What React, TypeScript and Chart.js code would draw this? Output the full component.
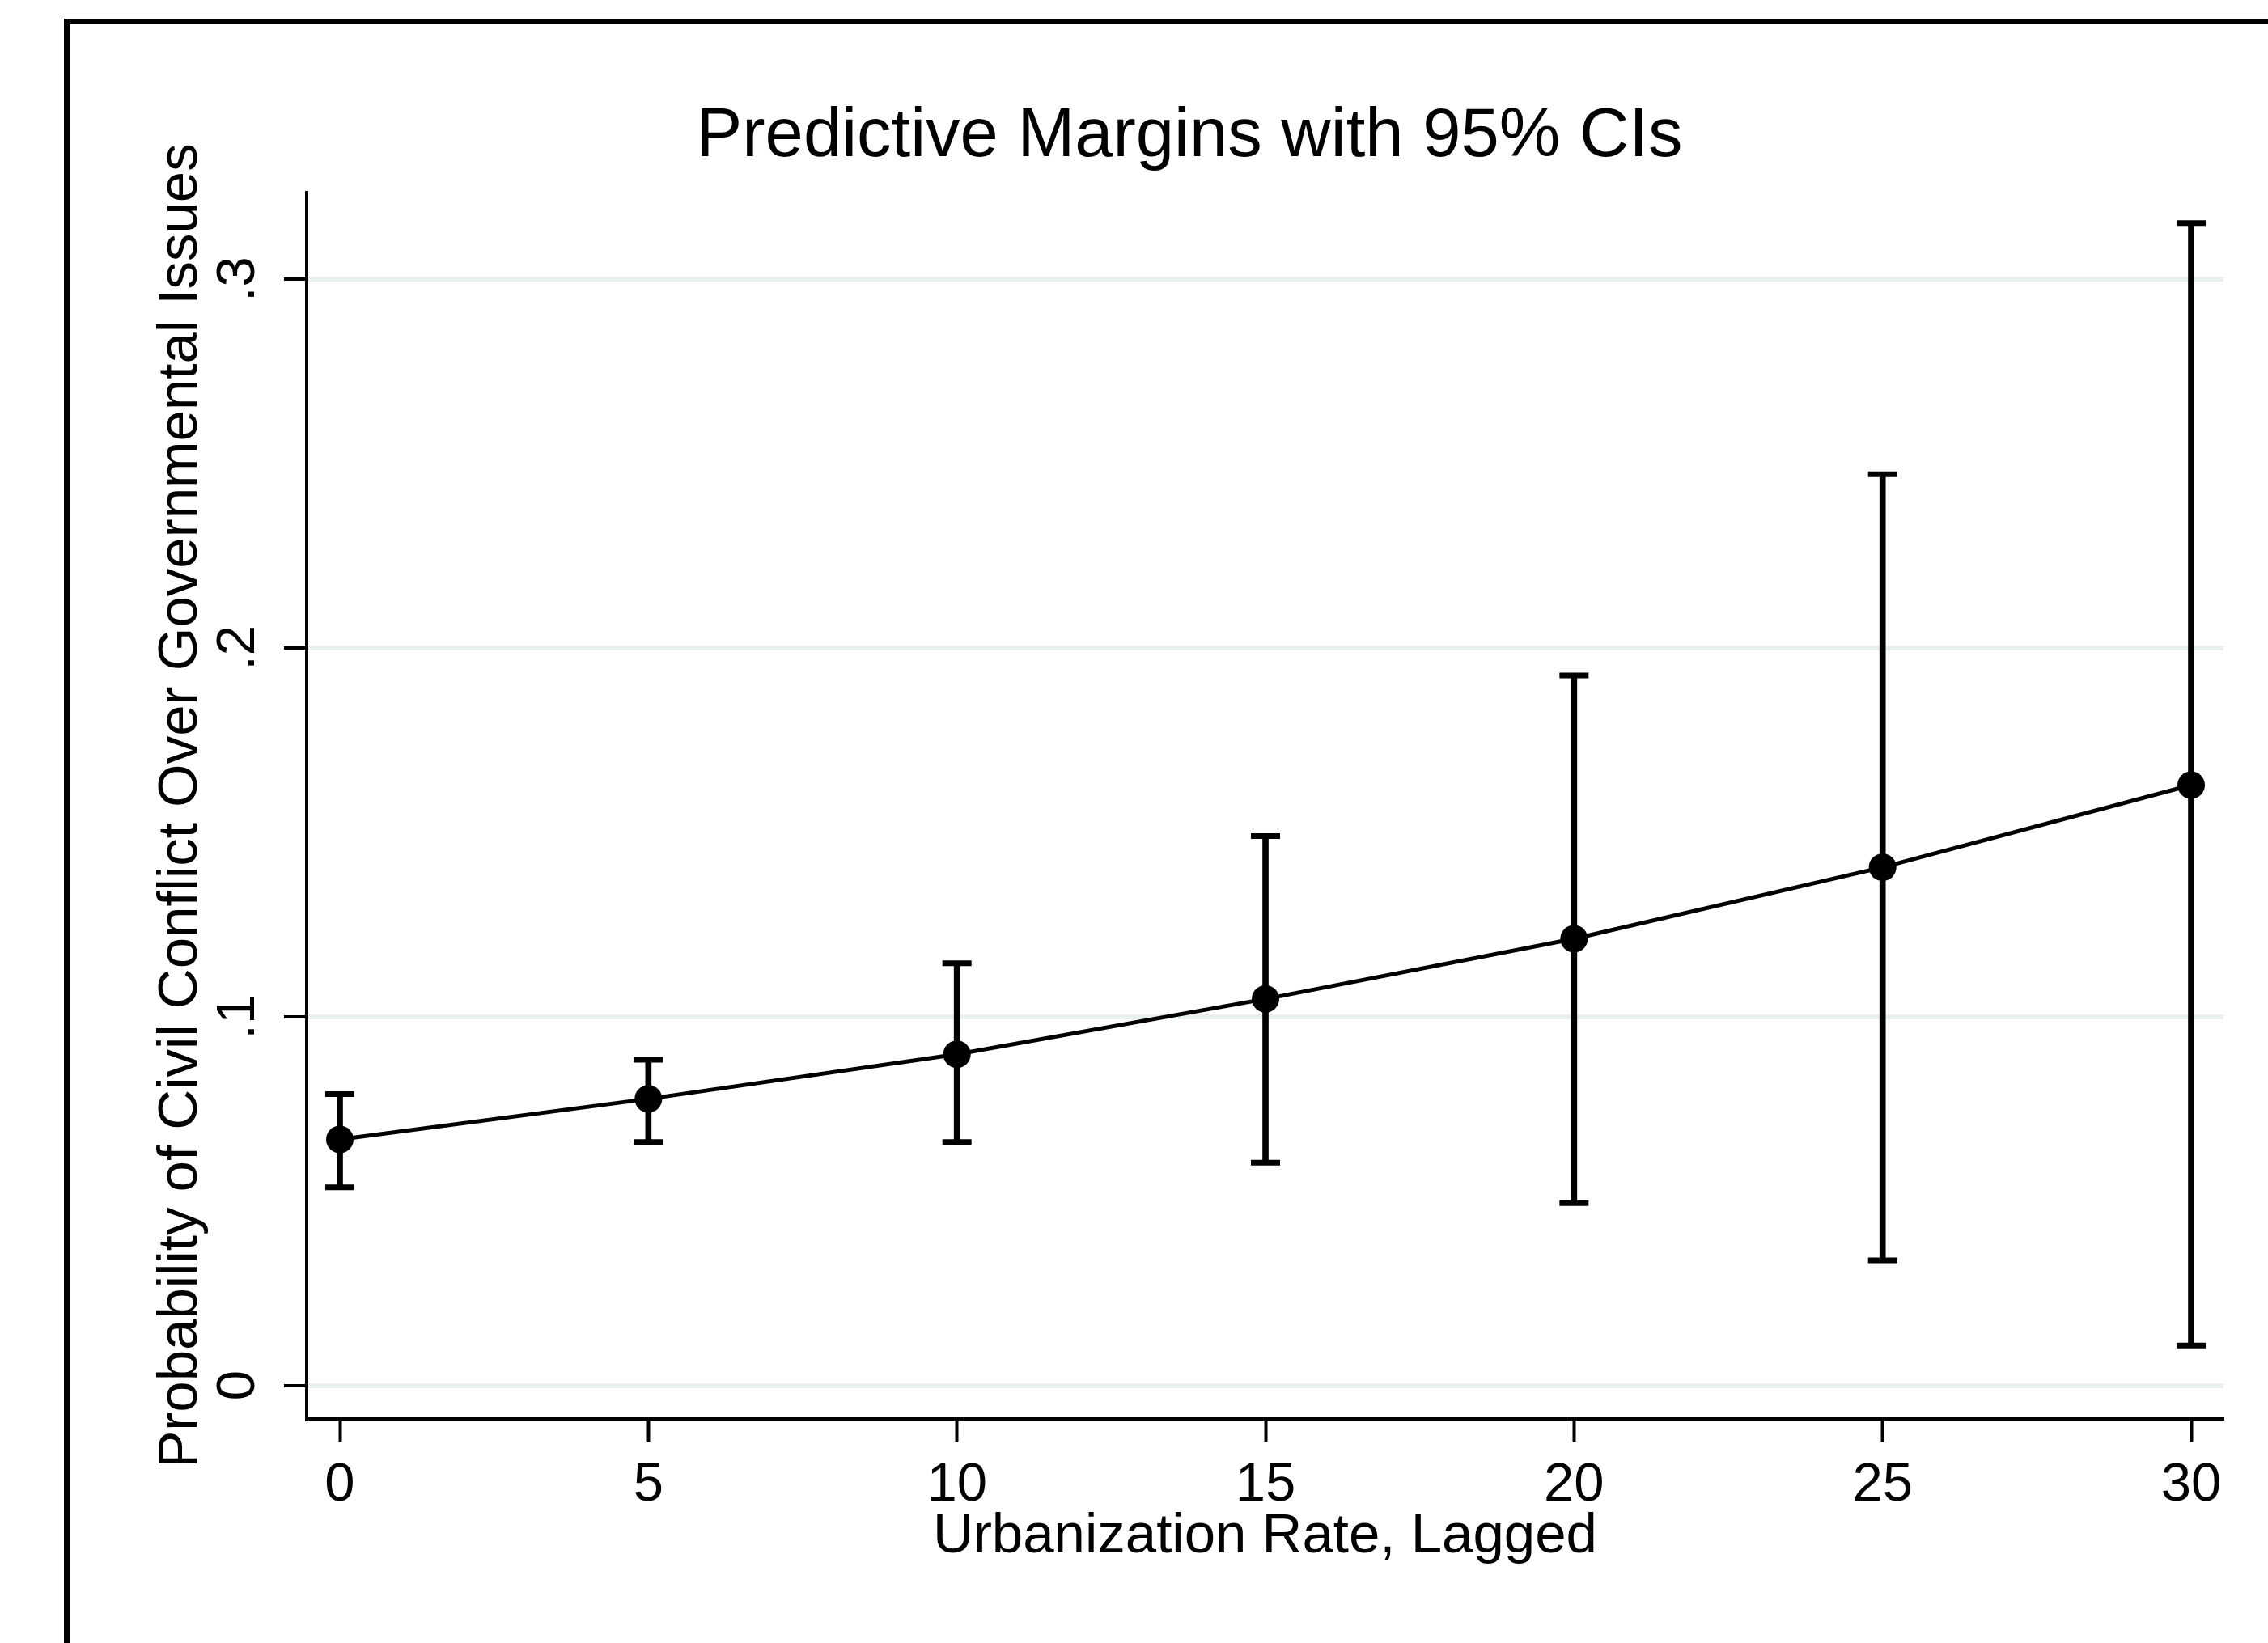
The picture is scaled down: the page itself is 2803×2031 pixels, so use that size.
import React, { useEffect, useRef } from 'react';
import { Chart, registerables } from 'chart.js';

Chart.register(...registerables);

// ---- Data ----
const xValues = [0, 5, 10, 15, 20, 25, 30];
const margins = [0.0667, 0.0777, 0.0898, 0.1048, 0.1211, 0.1405, 0.1628];
const ciLower = [0.0537, 0.066, 0.066, 0.0604, 0.0494, 0.0339, 0.0108];
const ciUpper = [0.079, 0.0883, 0.1145, 0.149, 0.1925, 0.2471, 0.3152];

const xTickValues = [0, 5, 10, 15, 20, 25, 30];
const yTickValues = [0, 0.1, 0.2, 0.3];
const yTickLabels = ['0', '.1', '.2', '.3'];

const titleText = 'Predictive Margins with 95% CIs';
const xTitle = 'Urbanization Rate, Lagged';
const yTitle = 'Probability of Civil Conflict Over Governmental Issues';

const FONT = '"Liberation Sans", Arial, sans-serif';

const framePlugin = {
  id: 'stataFrame',
  beforeDraw(chart: any) {
    const ctx = chart.ctx;
    ctx.save();
    ctx.fillStyle = '#ffffff';
    ctx.fillRect(0, 0, chart.width, chart.height);
    ctx.fillStyle = '#000000';
    ctx.fillRect(79, 23, 7, chart.height);
    ctx.fillRect(79, 23, chart.width, 7);
    ctx.restore();
  },
};

export default function App() {
  const canvasRef = useRef<HTMLCanvasElement | null>(null);

  useEffect(() => {
    const canvas = canvasRef.current;
    if (!canvas) return;

    const linePoints = xValues.map((x, i) => ({ x, y: margins[i] }));
    const barPoints = xValues.map((x, i) => ({ x, y: [ciLower[i], ciUpper[i]] }));
    const capPoints = [
      ...xValues.map((x, i) => ({ x, y: ciLower[i] })),
      ...xValues.map((x, i) => ({ x, y: ciUpper[i] })),
    ];

    const chart = new Chart(canvas, {
      type: 'scatter',
      data: {
        datasets: [
          {
            type: 'line',
            label: 'Margin',
            data: linePoints,
            borderColor: '#000',
            borderWidth: 5,
            pointRadius: 17,
            pointBackgroundColor: '#000',
            pointBorderColor: '#000',
            pointBorderWidth: 0,
            tension: 0,
            fill: false,
            order: 0,
          } as any,
          {
            type: 'scatter',
            label: 'CI caps',
            data: capPoints,
            pointStyle: 'line',
            pointRadius: 18,
            pointBorderWidth: 7,
            pointBorderColor: '#000',
            pointBackgroundColor: '#000',
            showLine: false,
            order: 1,
          } as any,
          {
            type: 'bar',
            label: 'CI',
            data: barPoints,
            backgroundColor: '#000',
            borderWidth: 0,
            barThickness: 7,
            grouped: false,
            order: 2,
          } as any,
        ],
      },
      options: {
        animation: false,
        responsive: false,
        devicePixelRatio: 1,
        layout: { padding: { left: 192, right: 55, top: 0, bottom: 90 } },
        plugins: {
          legend: { display: false },
          tooltip: { enabled: false },
          title: {
            display: true,
            text: titleText,
            color: '#000',
            font: { family: FONT, size: 85, weight: 'normal', lineHeight: 1.2 },
            padding: { top: 119, bottom: 17 },
          },
        },
        scales: {
          x: {
            type: 'linear',
            min: -0.5376,
            max: 30.524,
            offset: false,
            afterBuildTicks: (scale: any) => {
              scale.ticks = xTickValues.map((v) => ({ value: v }));
            },
            afterFit: (scale: any) => {
              scale.height = 187;
            },
            ticks: {
              autoSkip: false,
              maxRotation: 0,
              minRotation: 0,
              color: '#000',
              padding: 14,
              font: { family: FONT, size: 67 },
              callback: (v: any) => String(v),
            },
            grid: {
              offset: false,
              drawOnChartArea: false,
              drawTicks: true,
              tickLength: 28,
              tickWidth: 4,
              tickColor: '#000',
            },
            border: { display: true, color: '#000', width: 4 },
            title: {
              display: true,
              text: xTitle,
              color: '#000',
              font: { family: FONT, size: 69, lineHeight: 1.2 },
              padding: { top: 0, bottom: 0 },
            },
          },
          y: {
            type: 'linear',
            min: -0.0091,
            max: 0.3235,
            afterBuildTicks: (scale: any) => {
              scale.ticks = yTickValues.map((v) => ({ value: v }));
            },
            afterFit: (scale: any) => {
              scale.width = 187;
            },
            ticks: {
              autoSkip: false,
              minRotation: 90,
              maxRotation: 90,
              crossAlign: 'center',
              color: '#000',
              padding: 28,
              font: { family: FONT, size: 67 },
              callback: (_v: any, index: number) => yTickLabels[index],
            },
            grid: {
              offset: false,
              drawOnChartArea: true,
              color: '#e8f0f2',
              lineWidth: 6,
              drawTicks: true,
              tickLength: 28,
              tickWidth: 4,
              tickColor: '#000',
            },
            border: { display: true, color: '#000', width: 4 },
            title: {
              display: true,
              text: yTitle,
              color: '#000',
              font: { family: FONT, size: 69, lineHeight: 1.2 },
              padding: { top: -9, bottom: 0 },
            },
          },
        },
      } as any,
      plugins: [framePlugin],
    });

    return () => {
      chart.destroy();
    };
  }, []);

  return (
    <div style={{ position: 'absolute', left: 0, top: 0, width: 2803, height: 2031, background: '#fff' }}>
      <canvas ref={canvasRef} width={2803} height={2031} style={{ display: 'block', width: 2803, height: 2031 }} />
    </div>
  );
}
